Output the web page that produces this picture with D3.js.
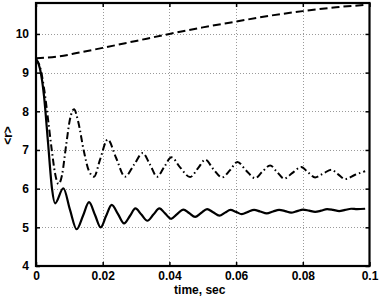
<!DOCTYPE html>
<html><head><meta charset="utf-8">
<script src="https://cdn.jsdelivr.net/npm/d3@7"></script>
<style>
html,body{margin:0;padding:0;background:#fff;}
text{font-family:"Liberation Sans",Arial,Helvetica,sans-serif;font-weight:bold;font-size:12px;fill:#000;}
</style></head>
<body><svg id="c" width="382" height="297"></svg>
<script>
// time (s) tick values and labels
const xTicks = [0, 0.02, 0.04, 0.06, 0.08, 0.1];
const xTickLabels = ["0", "0.02", "0.04", "0.06", "0.08", "0.1"];
const yTicks = [4, 5, 6, 7, 8, 9, 10];
const yTickLabels = ["4", "5", "6", "7", "8", "9", "10"];

// series: [time, <r>]
const dashedSeries = [
  [0, 9.37], [0.007, 9.42], [0.013, 9.52], [0.02, 9.64], [0.03, 9.82], [0.04, 10.0],
  [0.05, 10.17], [0.06, 10.32], [0.07, 10.47], [0.08, 10.59], [0.09, 10.69], [0.0987, 10.75]
];
const solidSeries = [
  [0, 9.35], [0.0012, 9.1], [0.0024, 8.4], [0.0036, 7.2], [0.0048, 6.0], [0.0057, 5.62],
  [0.0082, 6.01], [0.0102, 5.45], [0.0122, 4.95], [0.0141, 5.3], [0.0159, 5.65], [0.0177, 5.32],
  [0.0194, 5.0], [0.021, 5.29], [0.0227, 5.58], [0.0246, 5.34], [0.0264, 5.10], [0.0282, 5.3],
  [0.0298, 5.49], [0.0316, 5.33], [0.0334, 5.17], [0.0352, 5.33], [0.0370, 5.49], [0.0387, 5.36],
  [0.0405, 5.22], [0.0423, 5.34], [0.0442, 5.46], [0.0459, 5.37], [0.0477, 5.27], [0.0495, 5.37],
  [0.0513, 5.47], [0.0531, 5.39], [0.0550, 5.30], [0.0567, 5.38], [0.0583, 5.45], [0.0600, 5.40],
  [0.0617, 5.34], [0.0636, 5.40], [0.0654, 5.45], [0.0672, 5.41], [0.0692, 5.36], [0.0711, 5.41],
  [0.0729, 5.45], [0.0747, 5.42], [0.0765, 5.38], [0.0783, 5.42], [0.0801, 5.46], [0.0819, 5.43],
  [0.0837, 5.40], [0.0855, 5.43], [0.0873, 5.47], [0.0891, 5.45], [0.0909, 5.42], [0.0927, 5.45],
  [0.0945, 5.48], [0.0963, 5.47], [0.0987, 5.48]
];
const dashDotSeries = [
  [0, 9.35], [0.0012, 9.15], [0.0024, 8.6], [0.0036, 7.8], [0.0048, 6.95], [0.0057, 6.4],
  [0.00675, 6.12], [0.0078, 6.35], [0.009, 7.1], [0.0102, 7.8], [0.0114, 8.05], [0.0126, 7.75],
  [0.0144, 6.95], [0.0159, 6.45], [0.0174, 6.31], [0.0192, 6.75], [0.0215, 7.27], [0.024, 6.8],
  [0.0267, 6.31], [0.0294, 6.62], [0.032, 6.92], [0.0342, 6.62], [0.0363, 6.31], [0.0385, 6.57],
  [0.0406, 6.81], [0.0432, 6.55], [0.0462, 6.30], [0.0486, 6.53], [0.0508, 6.75], [0.0532, 6.5],
  [0.0558, 6.29], [0.0582, 6.48], [0.0604, 6.69], [0.063, 6.47], [0.0657, 6.27], [0.0678, 6.43],
  [0.0702, 6.60], [0.0723, 6.43], [0.0744, 6.26], [0.0768, 6.40], [0.0795, 6.56], [0.0816, 6.42],
  [0.0837, 6.29], [0.0861, 6.39], [0.0886, 6.49], [0.0906, 6.37], [0.0927, 6.25], [0.0957, 6.36],
  [0.0987, 6.45]
];

const svg = d3.select("#c");
const L = 36, R = 369.5, T = 3, B = 266;
const x = d3.scaleLinear().domain([0, 0.1]).range([L, R]);
const y = d3.scaleLinear().domain([4, 10.8]).range([B, T]);

// grid
const grid = svg.append("g").attr("stroke", "#9a9a9a").attr("stroke-width", 1).attr("stroke-dasharray", "1,2");
grid.selectAll(".gx").data(xTicks.slice(1, -1)).join("line")
  .attr("x1", d => Math.round(x(d)) + 0.5).attr("x2", d => Math.round(x(d)) + 0.5)
  .attr("y1", T).attr("y2", B);
grid.selectAll(".gy").data(yTicks.slice(1)).join("line")
  .attr("y1", d => Math.round(y(d)) + 0.5).attr("y2", d => Math.round(y(d)) + 0.5)
  .attr("x1", L).attr("x2", R);

// axes
const xAxis = d3.axisBottom(x).tickValues(xTicks).tickFormat((d, i) => xTickLabels[i]).tickSizeInner(-4).tickSizeOuter(0).tickPadding(5);
const yAxis = d3.axisLeft(y).tickValues(yTicks).tickFormat((d, i) => yTickLabels[i]).tickSizeInner(-4).tickSizeOuter(0).tickPadding(7);
const gx = svg.append("g").attr("transform", `translate(0,${B})`).call(xAxis);
const gy = svg.append("g").attr("transform", `translate(${L},0)`).call(yAxis);
const xTop = d3.axisTop(x).tickValues(xTicks).tickFormat("").tickSizeInner(-4).tickSizeOuter(0);
const yRight = d3.axisRight(y).tickValues(yTicks).tickFormat("").tickSizeInner(-4).tickSizeOuter(0);
const gt = svg.append("g").attr("transform", `translate(0,${T})`).call(xTop);
const gr = svg.append("g").attr("transform", `translate(${R},0)`).call(yRight);
[gx, gy, gt, gr].forEach(g => {
  g.select(".domain").remove();
  g.selectAll(".tick line").attr("stroke", "#000").attr("stroke-width", 1.5);
  g.selectAll("text").attr("fill", "#000").style("font-size", "12px").style("font-weight", "bold");
});

// curves
const line = d3.line().x(d => x(d[0])).y(d => y(d[1])).curve(d3.curveMonotoneX);
svg.append("path").datum(dashedSeries).attr("d", line).attr("fill", "none")
  .attr("stroke", "#000").attr("stroke-width", 2).attr("stroke-dasharray", "8,4");
svg.append("path").datum(dashDotSeries).attr("d", line).attr("fill", "none")
  .attr("stroke", "#000").attr("stroke-width", 2).attr("stroke-dasharray", "7,3,1.5,3");
svg.append("path").datum(solidSeries).attr("d", line).attr("fill", "none")
  .attr("stroke", "#000").attr("stroke-width", 2.2);

// box
svg.append("rect").attr("x", L).attr("y", T).attr("width", R - L).attr("height", B - T)
  .attr("fill", "none").attr("stroke", "#000").attr("stroke-width", 2.2);

// labels
svg.append("text").attr("x", (L + R) / 2 - 3).attr("y", 294).attr("text-anchor", "middle").text("time, sec");
svg.append("text").attr("transform", `translate(12,${(T + B) / 2 + 1}) rotate(-90)`)
  .attr("text-anchor", "middle").text("<r>");
</script></body></html>
